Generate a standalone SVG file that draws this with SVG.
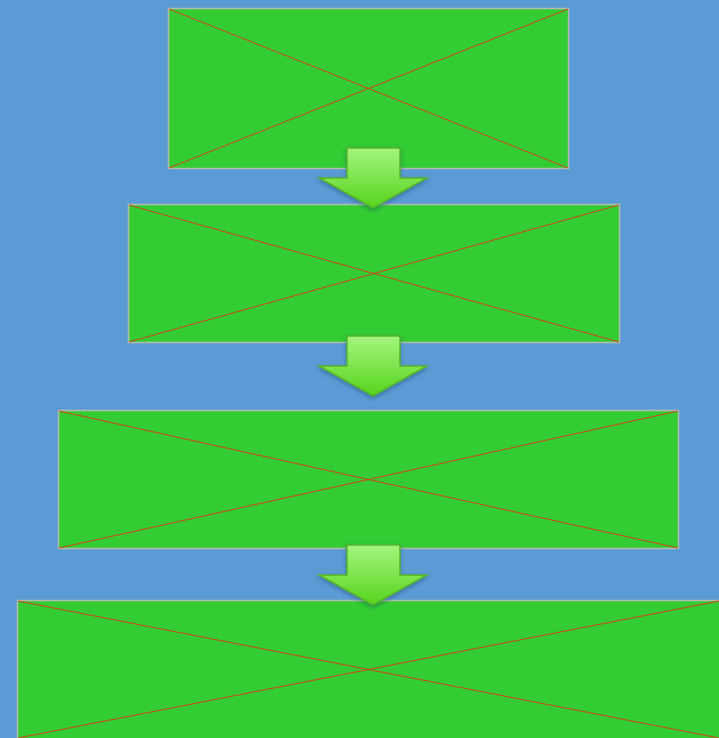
<svg xmlns="http://www.w3.org/2000/svg" width="719" height="738" viewBox="0 0 719 738">
<style>
.box{fill:#33cc33;stroke:#b4bcae;stroke-width:1.5}
.x{stroke:#d2401a;stroke-width:1;fill:none}
.arr{fill:url(#g);stroke:#55b52a;stroke-width:1.5;filter:url(#sh)}
</style>
<defs>
<linearGradient id="g" x1="0" y1="0" x2="0" y2="1">
<stop offset="0" stop-color="#a4f57e"/>
<stop offset="1" stop-color="#56d41c"/>
</linearGradient>
<filter id="sh" x="-20%" y="-20%" width="140%" height="150%">
<feDropShadow dx="0" dy="2" stdDeviation="2" flood-color="#1a3a5a" flood-opacity="0.45"/>
</filter>
<path id="ar" d="M-26,0 H27 V30 H54 L0,60 L-54,30 H-26 Z"/>
</defs>
<rect width="719" height="738" fill="#5b9bd5"/>
<g id="box1"><rect class="box" x="168.5" y="8.5" width="400" height="160"/><path class="x" d="M169,9 L568,168 M568,9 L169,168"/></g>
<g id="box2"><rect class="box" x="128.5" y="204.5" width="491" height="138"/><path class="x" d="M129,205 L619,342 M619,205 L129,342"/></g>
<g id="box3"><rect class="box" x="58.5" y="410.5" width="620" height="138"/><path class="x" d="M59,411 L678,548 M678,411 L59,548"/></g>
<g id="box4"><rect class="box" x="17.5" y="600.5" width="710" height="150"/><path class="x" d="M18,601 L719,738 M719,601 L18,738"/></g>
<g id="connectors">
<use href="#ar" class="arr" x="373" y="148"/>
<use href="#ar" class="arr" x="373" y="336"/>
<use href="#ar" class="arr" x="373" y="545"/>
</g>
</svg>
